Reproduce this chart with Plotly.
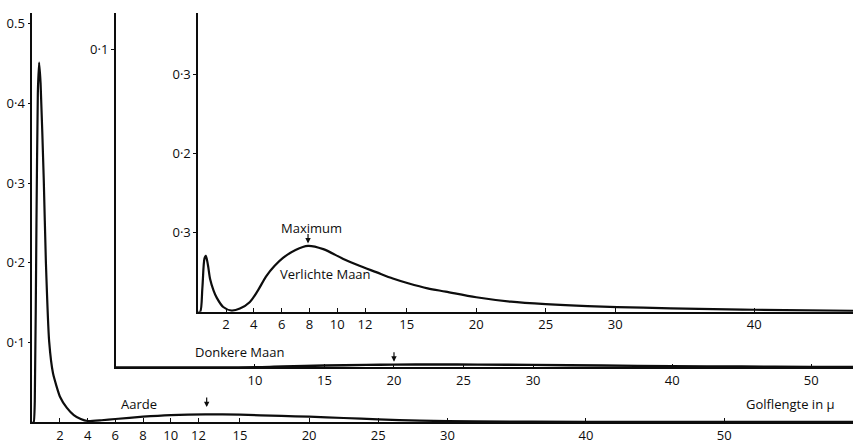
import plotly.graph_objects as go

# ---- data ----
earth_x = [0.0, 0.1, 0.18, 0.3, 0.4, 0.49, 0.6, 0.83, 0.98, 1.22, 1.5, 2.0, 2.5, 3.0, 3.5, 4.0,
           5.0, 6.0, 8.0, 10.0, 12.5, 15.0, 18.0, 20.0, 22.5, 25.0, 28.0, 32.0, 40.0, 50.0, 59.3]
earth_y = [0.0, 0.0, 0.026, 0.249, 0.413, 0.451, 0.425, 0.303, 0.202, 0.101, 0.061, 0.032, 0.018, 0.009, 0.004, 0.0015,
           0.0025, 0.004, 0.007, 0.009, 0.0099, 0.0094, 0.0079, 0.0069, 0.0053, 0.0035, 0.002, 0.001, 0.0006, 0.0004, 0.0003]

dark_x = [0.0, 8.0, 10.5, 12.0, 15.0, 18.0, 20.0, 23.0, 26.0, 30.0, 35.0, 40.0, 45.0, 50.0, 53.0]
dark_y = [0.0, 0.0, 0.0001, 0.0003, 0.0006, 0.0008, 0.0009, 0.00092, 0.0009, 0.0008, 0.0006, 0.0004, 0.0003, 0.0002, 0.0002]

lit_x = [0.0, 0.14, 0.3, 0.45, 0.55, 0.7, 0.86, 1.1, 1.33, 1.8, 2.4, 3.0, 3.7, 4.3, 4.9, 5.5, 6.1, 7.0, 7.9,
         9.0, 10.4, 11.6, 12.8, 14.0, 15.1, 16.5, 17.8, 20.0, 22.5, 25.0, 28.0, 32.0, 36.0, 40.0, 47.1]
lit_y = [0.0, 0.0, 0.030, 0.067, 0.0706, 0.059, 0.041, 0.027, 0.0178, 0.006, 0.0015, 0.004, 0.012, 0.027, 0.045, 0.058, 0.068, 0.078, 0.0832,
         0.079, 0.067, 0.058, 0.050, 0.042, 0.036, 0.0295, 0.0254, 0.0183, 0.0127, 0.0096, 0.0071, 0.0051, 0.0036, 0.0025, 0.0012]

earth_xticks = [2, 4, 6, 8, 10, 12, 15, 20, 25, 30, 40, 50]
dark_xticks = [10, 15, 20, 25, 30, 40, 50]
lit_xticks = [2, 4, 6, 8, 10, 12, 15, 20, 25, 30, 40]

earth_yticks = [0.1, 0.2, 0.3, 0.4, 0.5]
earth_ylabels = ["0·1", "0·2", "0·3", "0·4", "0.5"]
dark_yticks = [0.1]
dark_ylabels = ["0·1"]
lit_yticks = [0.1, 0.2, 0.3]
lit_ylabels = ["0·3", "0·2", "0·3"]

W, H = 853, 444
FONT = "Open Sans"
INK = "#0d0d0d"

def px_x(sx):
    return sx / W

def px_y(sy):
    return 1 - sy / H

fig = go.Figure()
fig.add_trace(go.Scatter(x=earth_x, y=earth_y, mode="lines",
                         line=dict(color=INK, width=2.2, shape="spline", smoothing=0.5),
                         xaxis="x", yaxis="y", hoverinfo="skip"))
fig.add_trace(go.Scatter(x=dark_x, y=dark_y, mode="lines",
                         line=dict(color=INK, width=2.4, shape="spline", smoothing=0.8),
                         xaxis="x2", yaxis="y2", hoverinfo="skip"))
fig.add_trace(go.Scatter(x=lit_x, y=lit_y, mode="lines",
                         line=dict(color=INK, width=2.2, shape="spline", smoothing=0.9),
                         xaxis="x3", yaxis="y3", hoverinfo="skip"))

def xax(domain, rng, ticks, anchor):
    return dict(domain=domain, range=rng, tickvals=ticks, ticktext=[str(t) for t in ticks],
                showline=True, linecolor=INK, linewidth=1.8, ticks="inside", ticklen=4, tickcolor=INK,
                showgrid=False, zeroline=False, anchor=anchor, fixedrange=True,
                tickfont=dict(family=FONT, size=13, color=INK))

def yax(domain, rng, ticks, labels, anchor):
    return dict(domain=domain, range=rng, tickvals=ticks, ticktext=labels,
                showline=True, linecolor=INK, linewidth=1.6, ticks="outside", ticklen=3, tickcolor=INK,
                showgrid=False, zeroline=False, anchor=anchor, fixedrange=True,
                tickfont=dict(family=FONT, size=13, color=INK))

fig.update_layout(
    width=W, height=H, margin=dict(l=0, r=0, t=0, b=0),
    paper_bgcolor="white", plot_bgcolor="white", showlegend=False,
    xaxis=xax([px_x(32.3), 1], [0, 59.3], earth_xticks, "y"),
    yaxis=yax([px_y(428), px_y(13)], [0, 0.5136], earth_yticks, earth_ylabels, "x"),
    xaxis2=xax([px_x(115.8), 1], [0, 53.0], dark_xticks, "y2"),
    yaxis2=yax([px_y(372.5), px_y(13)], [0, 0.1114], dark_yticks, dark_ylabels, "x2"),
    xaxis3=xax([px_x(198.2), 1], [0, 47.1], lit_xticks, "y3"),
    yaxis3=yax([px_y(316), px_y(12.7)], [0, 0.3777], lit_yticks, lit_ylabels, "x3"),
)

tf = dict(family=FONT, size=13, color=INK)
labels = [
    ("Aarde", 139, 410),
    ("Donkere Maan", 239, 357),
    ("Verlichte Maan", 325, 278),
    ("Maximum", 311, 231),
    ("Golflengte in μ", 790, 410),
]
for text, sx, sy in labels:
    fig.add_annotation(text=text, x=px_x(sx), y=px_y(sy), xref="paper", yref="paper", showarrow=False,
                       font=tf, xanchor="center", yanchor="middle")

arrows = [("x", "y", 12.6, 0.019), ("x2", "y2", 20.0, 0.0018), ("x3", "y3", 7.9, 0.0862)]
for xr, yr, ax_, ay_ in arrows:
    fig.add_annotation(x=ax_, y=ay_, xref=xr, yref=yr, showarrow=True, text="",
                       ax=0, ay=-11, arrowhead=2, arrowsize=0.9, arrowwidth=1.2, arrowcolor=INK)

# remove the default 8px page margin so the figure sits at the window's top-left corner
fig.write_html("out.html", config={"displayModeBar": False},
               post_script="document.body.style.margin='0';document.body.style.overflow='hidden';")
